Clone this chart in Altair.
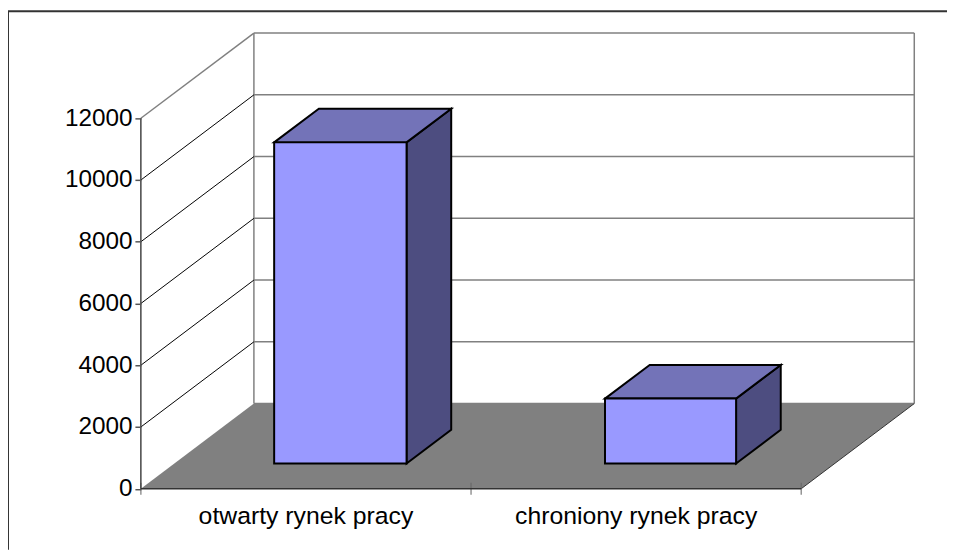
import altair as alt
import pandas as pd

# --- data ---
categories = ["otwarty rynek pracy", "chroniony rynek pracy"]
bar_values = [10400, 2100]
bar_left = [0.302, 1.304]
bar_right = [0.703, 1.701]
bar_base_depth = 0.297
bar_top_depth = 0.692
y_ticks = [0, 2000, 4000, 6000, 8000, 10000, 12000]
x_ticks = [0, 1, 2]
depth_dx = 114 / 333   # category units per unit of depth
depth_dy = 2759        # value units per unit of depth

X_DOM = [0, 2 + depth_dx]
Y_DOM = [0, 12000 + depth_dy]
x_s = alt.Scale(domain=X_DOM, nice=False, zero=False)
y_s = alt.Scale(domain=Y_DOM, nice=False, zero=False)
W, H = 780, 459.5


def X(c, d=0.0):
    return c + d * depth_dx


def Y(v, d=0.0):
    return v + d * depth_dy


x_enc = alt.X("x:Q", scale=x_s, axis=None)
y_enc = alt.Y("y:Q", scale=y_s, axis=alt.Axis(
    values=y_ticks, title=None, domain=False, grid=False, tickColor="#555555",
    tickSize=6, tickWidth=1.5, labelFontSize=24.5, labelFont="Liberation Sans",
    labelColor="black", labelPadding=3, format="d", zindex=1))

one = pd.DataFrame({"a": [0]})
frame_top = alt.Chart(one).mark_rule(color="#333333", strokeWidth=2, clip=False).encode(
    x=alt.value(-134), x2=alt.value(813), y=alt.value(-22))
frame_left = alt.Chart(one).mark_rule(color="#333333", strokeWidth=2, clip=False).encode(
    x=alt.value(-134), y=alt.value(-22), y2=alt.value(521))

# back wall
back_h = pd.DataFrame({"x": [X(0, 1)] * 7, "x2": [X(2, 1)] * 7, "y": [Y(v, 1) for v in y_ticks]})
back_grid = alt.Chart(back_h).mark_rule(color="#808080", strokeWidth=1.5).encode(
    x=x_enc, x2="x2:Q", y=y_enc)
back_v = pd.DataFrame({"x": [X(0, 1), X(2, 1)], "y": [Y(0, 1)] * 2, "y2": [Y(12000, 1)] * 2})
back_side = alt.Chart(back_v).mark_rule(color="#808080", strokeWidth=1.5).encode(
    x=x_enc, y=y_enc, y2="y2:Q")

# left wall
left_v = [v for v in y_ticks if 0 < v < 12000]
left_df = pd.DataFrame({"x": [X(0)] * 5, "x2": [X(0, 1)] * 5,
                        "y": left_v, "y2": [Y(v, 1) for v in left_v]})
left_grid = alt.Chart(left_df).mark_rule(color="black", strokeWidth=1).encode(
    x=x_enc, x2="x2:Q", y=y_enc, y2="y2:Q")
left_top = alt.Chart(pd.DataFrame({"x": [X(0)], "x2": [X(0, 1)], "y": [12000], "y2": [Y(12000, 1)]})
                     ).mark_rule(color="#808080", strokeWidth=1.5).encode(
    x=x_enc, x2="x2:Q", y=y_enc, y2="y2:Q")

# floor
floor_df = pd.DataFrame({"x": [X(0), X(0, 1)], "x2": [X(2), X(2, 1)], "y": [Y(0), Y(0, 1)]})
floor = alt.Chart(floor_df).mark_area(orient="horizontal", color="#808080").encode(
    x=x_enc, x2="x2:Q", y=y_enc)
floor_edge = alt.Chart(pd.DataFrame({"x": [X(2)], "x2": [X(2, 1)], "y": [0], "y2": [Y(0, 1)]})
                       ).mark_rule(color="#333333", strokeWidth=1).encode(
    x=x_enc, x2="x2:Q", y=y_enc, y2="y2:Q")

# bars
bar_layers = []
for L, R, v in zip(bar_left, bar_right, bar_values):
    d0, d1 = bar_base_depth, bar_top_depth
    top = pd.DataFrame({"x": [X(L, d0), X(L, d1)], "x2": [X(R, d0), X(R, d1)],
                        "y": [Y(v, d0), Y(v, d1)]})
    side = pd.DataFrame({"x": [X(R, d0), X(R, d1)], "y": [Y(0, d0), Y(0, d1)],
                         "y2": [Y(v, d0), Y(v, d1)]})
    front = pd.DataFrame({"x": [X(L, d0)], "x2": [X(R, d0)], "y": [Y(0, d0)], "y2": [Y(v, d0)]})
    bar_layers += [
        alt.Chart(side).mark_area(color="#4D4D80", stroke="black", strokeWidth=2).encode(
            x=x_enc, y=y_enc, y2="y2:Q"),
        alt.Chart(top).mark_area(orient="horizontal", color="#7373B8", stroke="black",
                                 strokeWidth=2).encode(x=x_enc, x2="x2:Q", y=y_enc),
        alt.Chart(front).mark_rect(color="#9999FF", stroke="black", strokeWidth=2).encode(
            x=x_enc, x2="x2:Q", y=y_enc, y2="y2:Q"),
    ]

# front axes
axis_y = alt.Chart(pd.DataFrame({"x": [0], "y": [0], "y2": [12000]})).mark_rule(
    color="#444444", strokeWidth=1.5).encode(x=x_enc, y=y_enc, y2="y2:Q")
axis_x = alt.Chart(pd.DataFrame({"x": [0], "x2": [2], "y": [0]})).mark_rule(
    color="#333333", strokeWidth=1.5).encode(x=x_enc, x2="x2:Q", y=y_enc)
tick_x = alt.Chart(pd.DataFrame({"x": x_ticks, "y": [0] * 3})).mark_tick(
    color="#666666", thickness=1.5, size=12, orient="vertical", clip=False).encode(x=x_enc, y=y_enc)

labels = alt.Chart(pd.DataFrame({"x": [0.5, 1.5], "y": [0, 0], "t": categories})).mark_text(
    fontSize=25, font="Liberation Sans", color="black", baseline="middle", dy=28
).encode(x=x_enc, y=y_enc, text="t:N")

chart = alt.layer(
    frame_top, frame_left, back_grid, back_side, left_grid, left_top, floor, floor_edge,
    *bar_layers, tick_x, axis_y, axis_x, labels
).properties(
    width=W, height=H,
    padding={"left": 134, "top": 23, "right": 33, "bottom": 61.5},
    autosize=alt.AutoSizeParams(type="none"),
).configure_view(stroke=None)

chart.save("out.html", embed_options={"renderer": "svg", "actions": False})
